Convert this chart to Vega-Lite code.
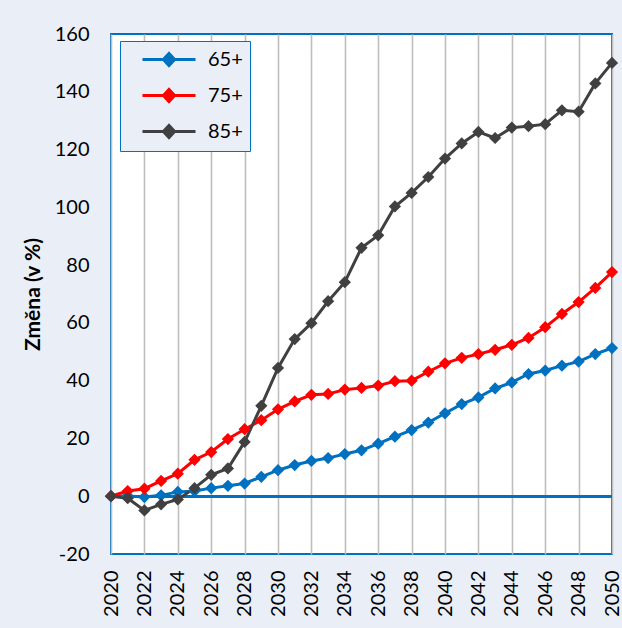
{
  "$schema": "https://vega.github.io/schema/vega-lite/v6.json",
  "width": 501,
  "height": 520,
  "autosize": {"type": "none"},
  "padding": {"left": 111, "top": 34, "right": 10, "bottom": 74},
  "background": "#EAEFF7",
  "config": {
    "view": {"fill": "white", "stroke": "#0070C0", "strokeWidth": 2},
    "font": "Lato",
    "axis": {
      "gridColor": "#BEBEBE",
      "gridWidth": 1.6,
      "domain": false,
      "ticks": false,
      "labelFont": "Lato",
      "labelFontSize": 20,
      "labelColor": "black"
    }
  },
  "data": {
    "values": [
      {"year": 2020, "group": "65+", "value": 0},
      {"year": 2021, "group": "65+", "value": 0.1},
      {"year": 2022, "group": "65+", "value": -0.3},
      {"year": 2023, "group": "65+", "value": 0.3},
      {"year": 2024, "group": "65+", "value": 1.5},
      {"year": 2025, "group": "65+", "value": 1.8},
      {"year": 2026, "group": "65+", "value": 2.8},
      {"year": 2027, "group": "65+", "value": 3.6},
      {"year": 2028, "group": "65+", "value": 4.4},
      {"year": 2029, "group": "65+", "value": 6.7},
      {"year": 2030, "group": "65+", "value": 9.0},
      {"year": 2031, "group": "65+", "value": 10.8},
      {"year": 2032, "group": "65+", "value": 12.2},
      {"year": 2033, "group": "65+", "value": 13.2},
      {"year": 2034, "group": "65+", "value": 14.6},
      {"year": 2035, "group": "65+", "value": 15.9},
      {"year": 2036, "group": "65+", "value": 18.2},
      {"year": 2037, "group": "65+", "value": 20.6},
      {"year": 2038, "group": "65+", "value": 22.9},
      {"year": 2039, "group": "65+", "value": 25.5},
      {"year": 2040, "group": "65+", "value": 28.7},
      {"year": 2041, "group": "65+", "value": 31.9},
      {"year": 2042, "group": "65+", "value": 34.2},
      {"year": 2043, "group": "65+", "value": 37.3},
      {"year": 2044, "group": "65+", "value": 39.4},
      {"year": 2045, "group": "65+", "value": 42.3},
      {"year": 2046, "group": "65+", "value": 43.5},
      {"year": 2047, "group": "65+", "value": 45.2},
      {"year": 2048, "group": "65+", "value": 46.6},
      {"year": 2049, "group": "65+", "value": 49.2},
      {"year": 2050, "group": "65+", "value": 51.3},
      {"year": 2020, "group": "75+", "value": 0},
      {"year": 2021, "group": "75+", "value": 1.8},
      {"year": 2022, "group": "75+", "value": 2.6},
      {"year": 2023, "group": "75+", "value": 5.3},
      {"year": 2024, "group": "75+", "value": 7.8},
      {"year": 2025, "group": "75+", "value": 12.6},
      {"year": 2026, "group": "75+", "value": 15.3},
      {"year": 2027, "group": "75+", "value": 19.8},
      {"year": 2028, "group": "75+", "value": 23.2},
      {"year": 2029, "group": "75+", "value": 26.3},
      {"year": 2030, "group": "75+", "value": 30.1},
      {"year": 2031, "group": "75+", "value": 32.8},
      {"year": 2032, "group": "75+", "value": 35.1},
      {"year": 2033, "group": "75+", "value": 35.4},
      {"year": 2034, "group": "75+", "value": 36.9},
      {"year": 2035, "group": "75+", "value": 37.5},
      {"year": 2036, "group": "75+", "value": 38.3},
      {"year": 2037, "group": "75+", "value": 39.8},
      {"year": 2038, "group": "75+", "value": 40.0},
      {"year": 2039, "group": "75+", "value": 43.1},
      {"year": 2040, "group": "75+", "value": 46.0},
      {"year": 2041, "group": "75+", "value": 47.9},
      {"year": 2042, "group": "75+", "value": 49.2},
      {"year": 2043, "group": "75+", "value": 50.7},
      {"year": 2044, "group": "75+", "value": 52.4},
      {"year": 2045, "group": "75+", "value": 54.8},
      {"year": 2046, "group": "75+", "value": 58.5},
      {"year": 2047, "group": "75+", "value": 63.1},
      {"year": 2048, "group": "75+", "value": 67.2},
      {"year": 2049, "group": "75+", "value": 72.1},
      {"year": 2050, "group": "75+", "value": 77.6},
      {"year": 2020, "group": "85+", "value": 0},
      {"year": 2021, "group": "85+", "value": -0.7},
      {"year": 2022, "group": "85+", "value": -4.9},
      {"year": 2023, "group": "85+", "value": -2.8},
      {"year": 2024, "group": "85+", "value": -1.1},
      {"year": 2025, "group": "85+", "value": 2.8},
      {"year": 2026, "group": "85+", "value": 7.4},
      {"year": 2027, "group": "85+", "value": 9.6},
      {"year": 2028, "group": "85+", "value": 18.8},
      {"year": 2029, "group": "85+", "value": 31.3},
      {"year": 2030, "group": "85+", "value": 44.4},
      {"year": 2031, "group": "85+", "value": 54.4},
      {"year": 2032, "group": "85+", "value": 59.9},
      {"year": 2033, "group": "85+", "value": 67.5},
      {"year": 2034, "group": "85+", "value": 74.1},
      {"year": 2035, "group": "85+", "value": 86.0},
      {"year": 2036, "group": "85+", "value": 90.3},
      {"year": 2037, "group": "85+", "value": 100.3},
      {"year": 2038, "group": "85+", "value": 105.0},
      {"year": 2039, "group": "85+", "value": 110.5},
      {"year": 2040, "group": "85+", "value": 116.9},
      {"year": 2041, "group": "85+", "value": 122.1},
      {"year": 2042, "group": "85+", "value": 126.1},
      {"year": 2043, "group": "85+", "value": 124.0},
      {"year": 2044, "group": "85+", "value": 127.6},
      {"year": 2045, "group": "85+", "value": 128.1},
      {"year": 2046, "group": "85+", "value": 128.8},
      {"year": 2047, "group": "85+", "value": 133.6},
      {"year": 2048, "group": "85+", "value": 133.1},
      {"year": 2049, "group": "85+", "value": 142.9},
      {"year": 2050, "group": "85+", "value": 150.0}
    ]
  },
  "layer": [
    {
      "mark": {"type": "rule", "color": "#0070C0", "strokeWidth": 2},
      "encoding": {"y": {"datum": 0, "type": "quantitative"}}
    },
    {
      "encoding": {
        "x": {
          "field": "year",
          "type": "quantitative",
          "scale": {"domain": [2020, 2050], "nice": false, "zero": false},
          "axis": {
            "title": null,
            "values": [2020, 2022, 2024, 2026, 2028, 2030, 2032, 2034, 2036, 2038, 2040, 2042, 2044, 2046, 2048, 2050],
            "format": "d",
            "labelAngle": 270,
            "labelAlign": "right",
            "labelBaseline": "middle",
            "labelPadding": 16
          }
        },
        "y": {
          "field": "value",
          "type": "quantitative",
          "scale": {"domain": [-20, 160], "nice": false, "zero": false},
          "axis": {
            "title": "Změna (v %)",
            "titleFont": "Lato",
            "titleFontSize": 21,
            "titleFontWeight": "bold",
            "titleColor": "black",
            "titlePadding": 11,
            "values": [-20, 0, 20, 40, 60, 80, 100, 120, 140, 160],
            "labelExpr": "replace(datum.label, '−', '-')",
            "labelPadding": 22
          }
        },
        "color": {
          "field": "group",
          "type": "nominal",
          "scale": {"domain": ["65+", "75+", "85+"], "range": ["#0070C0", "#FF0000", "#404040"]},
          "legend": {
            "title": null,
            "orient": "none",
            "legendX": 9,
            "legendY": 7,
            "fillColor": "#EAEFF7",
            "strokeColor": "#0070C0",
            "padding": 7,
            "symbolOffset": 30.5,
            "symbolType": "M-2.65,0H2.65M-0.56,0L0,-0.6L0.56,0L0,0.6Z",
            "symbolSize": 400,
            "symbolStrokeWidth": 3,
            "labelFont": "Lato",
            "labelFontSize": 20,
            "labelColor": "black",
            "labelOffset": 27.5,
            "rowPadding": 11
          }
        }
      },
      "layer": [
        {"mark": {"type": "line", "strokeWidth": 3}},
        {"mark": {"type": "point", "shape": "diamond", "filled": true, "size": 150, "opacity": 1}}
      ]
    }
  ]
}
